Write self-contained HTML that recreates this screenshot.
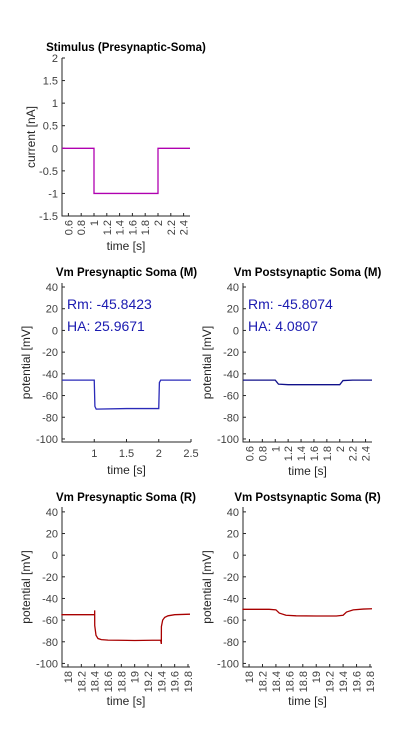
<!DOCTYPE html>
<html><head><meta charset="utf-8"><style>
html,body{margin:0;padding:0;background:#fff;}
svg{display:block;font-family:"Liberation Sans",sans-serif;}
</style></head><body>
<svg id="fig" width="413" height="750" viewBox="0 0 413 750"></svg>
<script>
// ---- data ----
const stimT = [0.5, 1.0, 1.0, 2.0, 2.0, 2.5];
const stimV = [0, 0, -1, -1, 0, 0];
const mPreT = [0.5, 1.0, 1.01, 1.03, 1.5, 2.0, 2.01, 2.03, 2.5];
const mPreV = [-45.8, -45.8, -70, -72.5, -72, -72, -48, -45.8, -45.8];
const mPostT = [0.5, 1.0, 1.05, 1.2, 1.5, 2.0, 2.05, 2.2, 2.5];
const mPostV = [-45.8, -45.8, -49.5, -50, -50, -50, -46.2, -45.8, -45.8];
const rPreT = [17.9, 18.4, 18.4, 18.401, 18.42, 18.45, 18.5, 18.6, 19.0, 19.39, 19.4, 19.401, 19.42, 19.45, 19.5, 19.6, 19.83];
const rPreV = [-55, -55, -51, -65, -74, -77, -78, -78.5, -78.8, -78.5, -82, -66, -60, -57.5, -56, -55, -54.5];
const rPostT = [17.9, 18.3, 18.4, 18.45, 18.55, 18.7, 19.0, 19.3, 19.4, 19.45, 19.55, 19.7, 19.83];
const rPostV = [-50, -50, -50.5, -53.5, -55.5, -56, -56.2, -56.2, -55.5, -52.5, -50.5, -49.8, -49.5];
const stimYTicks = [2, 1.5, 1, 0.5, 0, -0.5, -1, -1.5];
const stimYLabels = ["2", "1.5", "1", "0.5", "0", "-0.5", "-1", "-1.5"];
const mXTicks = [0.6, 0.8, 1, 1.2, 1.4, 1.6, 1.8, 2, 2.2, 2.4];
const mXLabels = ["0.6", "0.8", "1", "1.2", "1.4", "1.6", "1.8", "2", "2.2", "2.4"];
const mPreXTicks = [1, 1.5, 2, 2.5];
const mPreXLabels = ["1", "1.5", "2", "2.5"];
const vYTicks = [40, 20, 0, -20, -40, -60, -80, -100];
const vYLabels = ["40", "20", "0", "-20", "-40", "-60", "-80", "-100"];
const rXTicks = [18, 18.2, 18.4, 18.6, 18.8, 19, 19.2, 19.4, 19.6, 19.8];
const rXLabels = ["18", "18.2", "18.4", "18.6", "18.8", "19", "19.2", "19.4", "19.6", "19.8"];

const NS = "http://www.w3.org/2000/svg";
const svg = document.getElementById("fig");
function el(tag, attrs, parent) {
  const e = document.createElementNS(NS, tag);
  for (const k in attrs) e.setAttribute(k, attrs[k]);
  (parent || svg).appendChild(e);
  return e;
}
function panel(o) {
  const g = el("g", {});
  
  
  const sx = v => o.x0 + (v - o.xmin) / (o.xmax - o.xmin) * (o.x1 - o.x0);
  const sy = v => o.y1 - (v - o.ymin) / (o.ymax - o.ymin) * (o.y1 - o.y0);
  // axes
  const ax = el("path", {d: `M${o.x0},${o.y0} V${o.y1} H${o.x1}`, fill: "none", stroke: "#262626", "stroke-width": 1}, g);
  
  
  // y ticks
  o.yt.forEach((v, i) => {
    const y = sy(v);
    el("line", {x1: o.x0, x2: o.x0 + 3, y1: y, y2: y, stroke: "#262626"}, g);
    const t = el("text", {x: o.x0 - 4, y: y + 4, "text-anchor": "end", "font-size": 11, fill: "#404040"}, g);
    t.textContent = o.yl[i];
    
    
  });
  // x ticks
  o.xt.forEach((v, i) => {
    const x = sx(v);
    el("line", {x1: x, x2: x, y1: o.y1, y2: o.y1 - 3, stroke: "#262626"}, g);
    let t;
    if (o.rot) {
      t = el("text", {x: 0, y: 0, "text-anchor": "end", "font-size": 11, fill: "#404040",
        transform: `translate(${x + 4},${o.y1 + 4}) rotate(-90)`}, g);
    } else {
      t = el("text", {x: x, y: o.y1 + 15, "text-anchor": "middle", "font-size": 11, fill: "#404040"}, g);
    }
    t.textContent = o.xl[i];
    
    
  });
  // series
  const d = o.t.map((v, i) => (i ? "L" : "M") + sx(v).toFixed(2) + "," + sy(o.v[i]).toFixed(2)).join(" ");
  const p = el("path", {d: d, fill: "none", stroke: o.color, "stroke-width": 1.3}, g);
  
  
  // title
  const tt = el("text", {x: (o.x0 + o.x1) / 2, y: o.titleY, "text-anchor": "middle", "font-size": 11.5, "font-weight": "bold", fill: "#000"}, g);
  tt.textContent = o.title;
  
  
  const xl = el("text", {x: (o.x0 + o.x1) / 2, y: o.xlabY, "text-anchor": "middle", "font-size": 12, fill: "#262626"}, g);
  xl.textContent = "time [s]";
  
  
  const yl = el("text", {x: 0, y: 0, "text-anchor": "middle", "font-size": 12, fill: "#262626",
    transform: `translate(${o.ylabX},${(o.y0 + o.y1) / 2}) rotate(-90)`}, g);
  yl.textContent = o.ylab;
  
  
  (o.notes || []).forEach((n, i) => {
    const nt = el("text", {x: o.x0 + 5, y: o.y0 + 26 + i * 22, "font-size": 14, fill: "#1a1ab0"}, g);
    nt.textContent = n;
    
    
  });
}
panel({name: "stimulus-chart", x0: 62, x1: 190, y0: 58, y1: 216, xmin: 0.5, xmax: 2.5, ymin: -1.5, ymax: 2,
  yt: stimYTicks, yl: stimYLabels, xt: mXTicks, xl: mXLabels, rot: true, t: stimT, v: stimV, color: "#b000b0",
  title: "Stimulus (Presynaptic-Soma)", titleY: 51, xlabY: 250, ylab: "current [nA]", ylabX: 35});
panel({name: "vm-pre-m-chart", x0: 62, x1: 191, y0: 283, y1: 442, xmin: 0.5, xmax: 2.5, ymin: -102.8, ymax: 43.7,
  yt: vYTicks, yl: vYLabels, xt: mPreXTicks, xl: mPreXLabels, rot: false, t: mPreT, v: mPreV, color: "#2a2ab8",
  title: "Vm Presynaptic Soma (M)", titleY: 276, xlabY: 474, ylab: "potential [mV]", ylabX: 30,
  notes: ["Rm: -45.8423", "HA: 25.9671"]});
panel({name: "vm-post-m-chart", x0: 243, x1: 372, y0: 283, y1: 442, xmin: 0.5, xmax: 2.5, ymin: -102.8, ymax: 43.7,
  yt: vYTicks, yl: vYLabels, xt: mXTicks, xl: mXLabels, rot: true, t: mPostT, v: mPostV, color: "#10108a",
  title: "Vm Postsynaptic Soma (M)", titleY: 276, xlabY: 475, ylab: "potential [mV]", ylabX: 211,
  notes: ["Rm: -45.8074", "HA: 4.0807"]});
panel({name: "vm-pre-r-chart", x0: 62, x1: 190, y0: 507, y1: 667, xmin: 17.91, xmax: 19.83, ymin: -103.3, ymax: 44.5,
  yt: vYTicks, yl: vYLabels, xt: rXTicks, xl: rXLabels, rot: true, t: rPreT, v: rPreV, color: "#a80000",
  title: "Vm Presynaptic Soma (R)", titleY: 501, xlabY: 705, ylab: "potential [mV]", ylabX: 30});
panel({name: "vm-post-r-chart", x0: 243, x1: 372, y0: 507, y1: 667, xmin: 17.91, xmax: 19.83, ymin: -103.3, ymax: 44.5,
  yt: vYTicks, yl: vYLabels, xt: rXTicks, xl: rXLabels, rot: true, t: rPostT, v: rPostV, color: "#a80000",
  title: "Vm Postsynaptic Soma (R)", titleY: 501, xlabY: 705, ylab: "potential [mV]", ylabX: 211});
</script>
</body></html>
